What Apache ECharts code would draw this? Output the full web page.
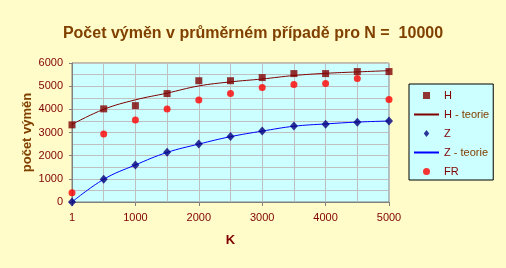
<!DOCTYPE html>
<html><head><meta charset="utf-8">
<script src="https://cdn.jsdelivr.net/npm/echarts@6/dist/echarts.min.js"></script>
<style>html,body{margin:0;padding:0;background:#FFFCCA;}#c{width:506px;height:268px;}</style>
</head><body><div id="c"></div>
<script>
const categories = ['1','500','1000','1500','2000','2500','3000','3500','4000','4500','5000'];
const H = [3330, 4020, 4160, 4680, 5235, 5235, 5370, 5543, 5543, 5630, 5630];
const H_teorie = [3350, 4000, 4410, 4700, 5010, 5185, 5310, 5460, 5555, 5615, 5670];
const Z = [0, 980, 1598, 2146, 2505, 2822, 3067, 3283, 3360, 3442, 3499];
const Z_teorie = [0, 980, 1600, 2140, 2500, 2820, 3060, 3270, 3370, 3450, 3495];
const FR = [402, 2938, 3542, 4018, 4406, 4680, 4940, 5068, 5110, 5327, 4420];
const yTicks = [0, 1000, 2000, 3000, 4000, 5000, 6000];

const chart = echarts.init(document.getElementById('c'), null, {renderer: 'canvas'});
const font = 'Arial, "Liberation Sans", sans-serif';
const legendText = {fontFamily: font, fontSize: 11, lineHeight: 13};
chart.setOption({
  backgroundColor: '#FFFCCA',
  animation: false,
  title: {
    text: 'Počet výměn v průměrném případě pro N =  10000',
    left: 'center', top: 21,
    textStyle: {fontFamily: font, fontSize: 16, fontWeight: 'bold', color: '#804000'}
  },
  grid: {left: 72, right: 117, top: 63, bottom: 66, show: true, backgroundColor: '#CCFFFF', borderColor: '#808080', borderWidth: 1},
  legend: {
    orient: 'vertical', left: 409, top: 84,
    backgroundColor: '#CCFFFF', borderColor: '#000000', borderWidth: 1,
    padding: [5, 4, 2, 4], itemWidth: 25, itemHeight: 7, itemGap: 6,
    symbolKeepAspect: true,
    textStyle: Object.assign({color: '#800000',
      rich: {a: Object.assign({color: '#800000'}, legendText), b: Object.assign({color: '#804000'}, legendText)}}, legendText),
    formatter: function (n) {
      const i = n.indexOf(' - ');
      if (i < 0) return '{a|' + n + '}';
      return '{a|' + n.slice(0, i) + '}{b|' + n.slice(i) + '}';
    },
    data: [
      {name: 'H', icon: 'path://M0,0L6,0L6,6L0,6Z'},
      {name: 'H - teorie', itemStyle: {opacity: 0}},
      {name: 'Z', icon: 'path://M3.5,0L7,4.5L3.5,9L0,4.5Z'},
      {name: 'Z - teorie', itemStyle: {opacity: 0}},
      {name: 'FR', icon: 'circle'}
    ]
  },
  xAxis: {
    type: 'category', data: categories, boundaryGap: false,
    name: 'K', nameLocation: 'middle', nameGap: 32,
    nameTextStyle: {fontFamily: font, fontSize: 13, fontWeight: 'bold', color: '#800000'},
    axisLine: {lineStyle: {color: '#808080'}},
    axisTick: {show: true, interval: 1, length: 4, lineStyle: {color: '#808080'}},
    axisLabel: {interval: 1, margin: 10, fontFamily: font, fontSize: 11, color: '#800000'},
    splitLine: {show: true, interval: 0, lineStyle: {color: '#C0C0C0'}}
  },
  yAxis: {
    type: 'value', min: yTicks[0], max: yTicks[yTicks.length - 1], interval: 1000,
    name: 'počet výměn', nameLocation: 'middle', nameGap: 38, nameRotate: 90,
    nameMoveOverlap: false,
    nameTextStyle: {fontFamily: font, fontSize: 13, fontWeight: 'bold', color: '#804000'},
    axisLine: {show: true, lineStyle: {color: '#808080'}},
    axisTick: {show: true, length: 3, lineStyle: {color: '#808080'}},
    axisLabel: {margin: 9, fontFamily: font, fontSize: 11, color: '#800000', formatter: function (v) { return String(v); }},
    splitLine: {show: true, lineStyle: {color: '#C0C0C0'}},
    minorSplitLine: {show: true, lineStyle: {color: '#C0C0C0'}},
    minorTick: {show: false, splitNumber: 2}
  },
  series: [
    {name: 'H - teorie', type: 'line', data: H_teorie, smooth: 0.4, showSymbol: false, symbol: 'none',
      lineStyle: {color: '#800000', width: 1}, itemStyle: {color: '#800000'}, z: 2},
    {name: 'Z - teorie', type: 'line', data: Z_teorie, smooth: 0.4, showSymbol: false, symbol: 'none',
      lineStyle: {color: '#0000FF', width: 1}, itemStyle: {color: '#0000FF'}, z: 2},
    {name: 'H', type: 'scatter', data: H, symbol: 'rect', symbolSize: 7, itemStyle: {color: '#800000'}, z: 3},
    {name: 'Z', type: 'scatter', data: Z, symbol: 'diamond', symbolSize: [8, 9], itemStyle: {color: '#000080'}, z: 3},
    {name: 'FR', type: 'scatter', data: FR, symbol: 'circle', symbolSize: 7, itemStyle: {color: '#FF0000'}, z: 3}
  ]
});
</script></body></html>
